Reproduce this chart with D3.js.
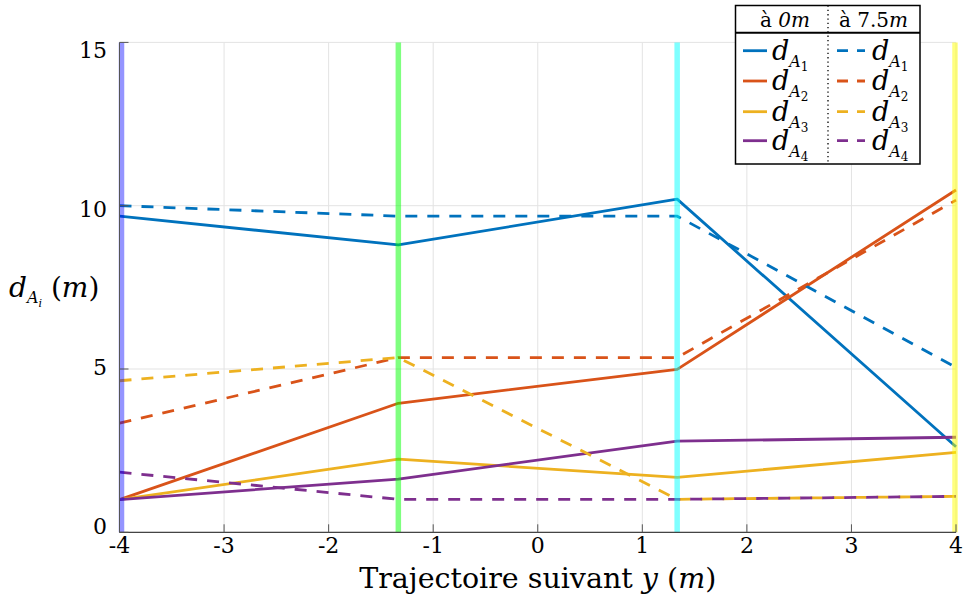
<!DOCTYPE html>
<html><head><meta charset="utf-8">
<script src="https://cdn.jsdelivr.net/npm/d3@7"></script>
<style>body{margin:0;background:#fff}svg{display:block}svg text{font-family:"DejaVu Serif","Liberation Serif","Noto Serif",serif}</style>
</head><body><svg id="c" width="963" height="601"></svg>
<script>
// ---- data ----
const xPos = [-4, -4/3, 4/3, 4];
const seriesNames = ["A1", "A2", "A3", "A4"];
const seriesColors = ["#0072BD", "#D95319", "#EDB120", "#7E2F8E"];
const at0m_A1 = [9.68, 8.80, 10.20, 2.62];
const at0m_A2 = [1.00, 3.95, 4.99, 10.48];
const at0m_A3 = [1.00, 2.24, 1.68, 2.45];
const at0m_A4 = [1.00, 1.63, 2.79, 2.91];
const at75_A1 = [10.00, 9.68, 9.68, 5.05];
const at75_A2 = [3.34, 5.35, 5.35, 10.17];
const at75_A3 = [4.64, 5.35, 1.01, 1.10];
const at75_A4 = [1.84, 1.01, 1.01, 1.10];
const xTicks = [-4, -3, -2, -1, 0, 1, 2, 3, 4];
const yTicks = [0, 5, 10, 15];
const bandX = [-4, -4/3, 4/3, 4];
const bandColors = ["#0000ff", "#00ff00", "#00ffff", "#ffff00"];

const solid = [at0m_A1, at0m_A2, at0m_A3, at0m_A4];
const dashed = [at75_A1, at75_A2, at75_A3, at75_A4];

const svg = d3.select("#c");
const L = 119.5, R = 956, T = 42.4, B = 532.3;
const x = d3.scaleLinear().domain([-4, 4]).range([L, R]);
const y = d3.scaleLinear().domain([0, 15]).range([B, T]);
const yLab = d3.scaleLinear().domain([0, 15]).range([526, 50]);

// grid
const g = svg.append("g");
g.selectAll(".gx").data(xTicks).join("line")
  .attr("x1", d => x(d)).attr("x2", d => x(d)).attr("y1", T).attr("y2", B)
  .attr("stroke", "#e3e3e3").attr("stroke-width", 1);
g.selectAll(".gy").data(yTicks).join("line")
  .attr("x1", L).attr("x2", R).attr("y1", d => y(d)).attr("y2", d => y(d))
  .attr("stroke", "#e3e3e3").attr("stroke-width", 1);

// tick labels
g.selectAll(".lx").data(xTicks).join("text")
  .attr("x", d => x(d)).attr("y", 553).attr("text-anchor", "middle")
  .attr("font-size", 22).text(d => d);
g.selectAll(".ly").data(yTicks).join("text")
  .attr("x", 107).attr("y", d => yLab(d)).attr("dy", "0.36em").attr("text-anchor", "end")
  .attr("font-size", 22).text(d => d);

// lines
const line = d3.line().x((d, i) => x(xPos[i])).y(d => y(d));
solid.forEach((s, k) => {
  svg.append("path").attr("d", line(s)).attr("fill", "none")
    .attr("stroke", seriesColors[k]).attr("stroke-width", 2.8).attr("stroke-linejoin", "round");
});
dashed.forEach((s, k) => {
  svg.append("path").attr("d", line(s)).attr("fill", "none")
    .attr("stroke", seriesColors[k]).attr("stroke-width", 2.8)
    .attr("stroke-dasharray", "12,10");
});

// vertical bands
svg.selectAll(".band").data(bandX).join("line")
  .attr("x1", d => x(d) + (d === -4 ? 2 : d === 4 ? -1 : 0)).attr("x2", d => x(d) + (d === -4 ? 2 : d === 4 ? -1 : 0))
  .attr("y1", T).attr("y2", B)
  .attr("stroke", (d, i) => bandColors[i]).attr("stroke-opacity", (d, i) => i === 0 ? 0.42 : 0.5).attr("stroke-width", 5.5);

// axes on top
const ax = svg.append("g");
ax.append("line").attr("x1", L).attr("x2", L).attr("y1", T).attr("y2", B).attr("stroke", "#555").attr("stroke-width", 1);
ax.append("line").attr("x1", L).attr("x2", R).attr("y1", B).attr("y2", B).attr("stroke", "#444").attr("stroke-width", 1.3);
ax.selectAll(".tx").data(xTicks).join("line")
  .attr("x1", d => x(d)).attr("x2", d => x(d)).attr("y1", B).attr("y2", B - 8)
  .attr("stroke", "#555").attr("stroke-width", 1);
ax.selectAll(".ty").data(yTicks).join("line")
  .attr("x1", L).attr("x2", L + 9).attr("y1", d => y(d)).attr("y2", d => y(d))
  .attr("stroke", "#555").attr("stroke-width", 1);

// axis titles
const xl = svg.append("text").attr("x", (L + R) / 2).attr("y", 588).attr("text-anchor", "middle").attr("font-size", 28.5);
xl.append("tspan").text("Trajectoire suivant ");
xl.append("tspan").attr("font-style", "italic").text("y");
xl.append("tspan").text(" (");
xl.append("tspan").attr("font-style", "italic").text("m");
xl.append("tspan").text(")");

const yl = svg.append("text").attr("x", 9).attr("y", 297).attr("font-size", 28);
yl.append("tspan").attr("font-style", "italic").text("d");
yl.append("tspan").attr("font-style", "italic").attr("font-size", 16).attr("dy", 6).text("A");
yl.append("tspan").attr("font-style", "italic").attr("font-size", 11).attr("dy", 4).text("i");
yl.append("tspan").attr("dy", -10).text(" (");
yl.append("tspan").attr("font-style", "italic").text("m");
yl.append("tspan").text(")");

// legend
const lg = svg.append("g");
const lx0 = 735.5, lx1 = 920, ly0 = 5.5, ly1 = 164, lyH = 32.7, lxM = 828;
lg.append("rect").attr("x", lx0).attr("y", ly0).attr("width", lx1 - lx0).attr("height", ly1 - ly0)
  .attr("fill", "#fff").attr("stroke", "#000").attr("stroke-width", 1.5);
lg.append("line").attr("x1", lx0).attr("x2", lx1).attr("y1", lyH).attr("y2", lyH).attr("stroke", "#000").attr("stroke-width", 2);
lg.append("line").attr("x1", lxM).attr("x2", lxM).attr("y1", ly0).attr("y2", ly1)
  .attr("stroke", "#000").attr("stroke-width", 1.3).attr("stroke-dasharray", "1.3,3");
const h1 = lg.append("text").attr("x", 760).attr("y", 27).attr("font-size", 20);
h1.append("tspan").text("à ");
h1.append("tspan").attr("font-style", "italic").text("0m");
const h2 = lg.append("text").attr("x", 839).attr("y", 27).attr("font-size", 20);
h2.append("tspan").text("à 7.5");
h2.append("tspan").attr("font-style", "italic").text("m");

const rowY = [50.7, 81, 111.7, 140.7];
seriesNames.forEach((nm, k) => {
  [[743, 767, null, 772], [837, 865, "11,9", 872]].forEach(([a, b, dash, tx]) => {
    const ln = lg.append("line").attr("x1", a).attr("x2", b).attr("y1", rowY[k]).attr("y2", rowY[k])
      .attr("stroke", seriesColors[k]).attr("stroke-width", 2.8);
    if (dash) ln.attr("stroke-dasharray", dash);
    const t = lg.append("text").attr("x", tx).attr("y", rowY[k] + 9).attr("font-size", 27);
    t.append("tspan").attr("font-style", "italic").text("d");
    t.append("tspan").attr("font-style", "italic").attr("font-size", 16).attr("dy", 7).text("A");
    t.append("tspan").attr("font-size", 12).attr("dy", 4).text(nm.slice(1));
  });
});
</script></body></html>
